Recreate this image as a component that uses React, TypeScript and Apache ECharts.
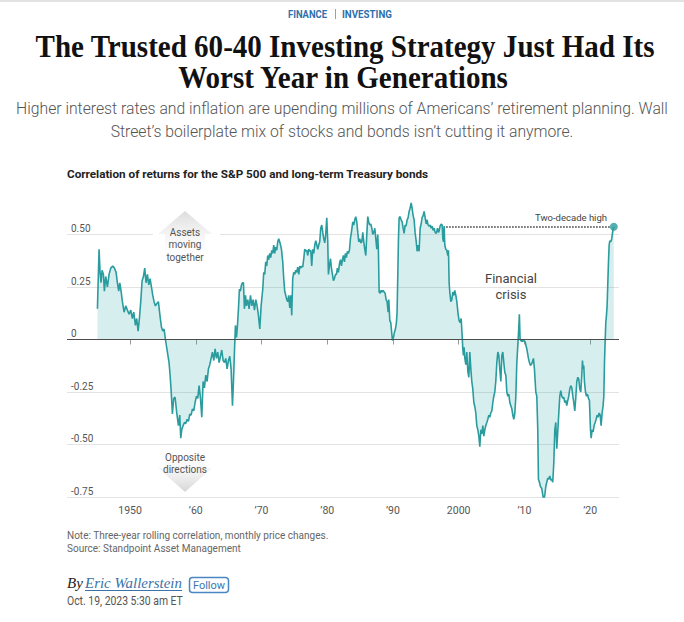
import React, { useEffect, useRef } from "react";
import * as echarts from "echarts";

// ---------- DATA (year, 3-yr rolling correlation) ----------
const readings1945to1956: [number, number][] = [
  [1945.03, 0.146], [1945.28, 0.43], [1945.43, 0.32], [1945.58, 0.27], [1945.74, 0.33], [1945.94, 0.31],
  [1946.09, 0.23], [1946.29, 0.3], [1946.55, 0.25], [1946.8, 0.31], [1947.06, 0.34], [1947.36, 0.35],
  [1947.61, 0.34], [1947.87, 0.32], [1948.07, 0.27], [1948.27, 0.23], [1948.43, 0.27], [1948.63, 0.23],
  [1948.83, 0.18], [1949.09, 0.13], [1949.34, 0.16], [1949.59, 0.14], [1949.85, 0.12], [1950.1, 0.14],
  [1950.35, 0.1], [1950.56, 0.13], [1950.81, 0.067], [1951.01, 0.1], [1951.22, 0.04], [1951.42, 0.1],
  [1951.62, 0.18], [1951.83, 0.28], [1952.03, 0.3], [1952.23, 0.34], [1952.43, 0.27], [1952.64, 0.31],
  [1952.84, 0.26], [1953.04, 0.29], [1953.25, 0.25], [1953.45, 0.21], [1953.65, 0.18], [1953.85, 0.16],
  [1954.06, 0.17], [1954.31, 0.18], [1954.56, 0.11], [1954.77, 0.06], [1954.97, 0.04], [1955.17, 0.05],
  [1955.38, 0.0], [1955.68, -0.06], [1955.93, -0.11], [1956.09, -0.17], [1956.24, -0.24], [1956.44, -0.355],
  [1956.64, -0.28], [1956.85, -0.275],
];
const readings1957to1969: [number, number][] = [
  [1957.1, -0.35], [1957.36, -0.41], [1957.56, -0.36], [1957.71, -0.47], [1957.86, -0.43], [1958.07, -0.41],
  [1958.27, -0.395], [1958.47, -0.4], [1958.68, -0.38], [1958.88, -0.39], [1959.08, -0.355], [1959.29, -0.36],
  [1959.49, -0.33], [1959.69, -0.34], [1959.89, -0.3], [1960.1, -0.27], [1960.3, -0.28], [1960.5, -0.22],
  [1960.71, -0.28], [1960.91, -0.37], [1961.11, -0.2], [1961.31, -0.23], [1961.52, -0.17], [1961.72, -0.2],
  [1961.92, -0.14], [1962.13, -0.12], [1962.33, -0.09], [1962.53, -0.06], [1962.74, -0.1], [1962.94, -0.045],
  [1963.14, -0.09], [1963.34, -0.06], [1963.55, -0.11], [1963.75, -0.08], [1963.95, -0.05], [1964.16, -0.1],
  [1964.36, -0.11], [1964.56, -0.09], [1964.76, -0.14], [1964.97, -0.1], [1965.17, -0.08], [1965.37, -0.14],
  [1965.58, -0.315], [1965.73, -0.2], [1965.88, -0.06], [1966.03, 0.067], [1966.19, 0.01], [1966.34, 0.067],
  [1966.49, 0.146], [1966.64, 0.24], [1966.79, 0.23], [1966.95, 0.26], [1967.1, 0.27], [1967.25, 0.27],
  [1967.4, 0.146], [1967.56, 0.21], [1967.71, 0.16], [1967.91, 0.19], [1968.11, 0.146], [1968.32, 0.21],
  [1968.52, 0.16], [1968.72, 0.19], [1968.93, 0.14], [1969.13, 0.19], [1969.33, 0.16], [1969.53, 0.115],
  [1969.74, 0.05], [1969.94, 0.16],
];
const readings1970to1983: [number, number][] = [
  [1970.19, 0.24], [1970.34, 0.32], [1970.49, 0.31], [1970.64, 0.37], [1970.79, 0.35], [1970.95, 0.4],
  [1971.1, 0.38], [1971.25, 0.41], [1971.4, 0.39], [1971.56, 0.425], [1971.71, 0.41], [1971.86, 0.45],
  [1972.01, 0.41], [1972.16, 0.44], [1972.32, 0.425], [1972.47, 0.465], [1972.62, 0.48], [1972.82, 0.46],
  [1973.03, 0.43], [1973.23, 0.37], [1973.38, 0.29], [1973.53, 0.23], [1973.69, 0.21], [1973.84, 0.19],
  [1973.99, 0.18], [1974.14, 0.21], [1974.3, 0.15], [1974.45, 0.21], [1974.6, 0.115], [1974.75, 0.29],
  [1974.9, 0.32], [1975.06, 0.31], [1975.21, 0.33], [1975.36, 0.32], [1975.51, 0.345], [1975.67, 0.31],
  [1975.82, 0.35], [1975.97, 0.34], [1976.12, 0.35], [1976.27, 0.345], [1976.43, 0.385], [1976.58, 0.43],
  [1976.73, 0.42], [1976.88, 0.425], [1977.04, 0.4], [1977.19, 0.43], [1977.34, 0.42], [1977.49, 0.425],
  [1977.64, 0.35], [1977.8, 0.43], [1977.95, 0.41], [1978.1, 0.45], [1978.25, 0.47], [1978.41, 0.45],
  [1978.56, 0.43], [1978.71, 0.45], [1978.86, 0.465], [1979.01, 0.53], [1979.17, 0.545], [1979.32, 0.51],
  [1979.47, 0.48], [1979.62, 0.46], [1979.77, 0.5], [1979.93, 0.58], [1980.08, 0.465], [1980.18, 0.31],
  [1980.33, 0.35], [1980.49, 0.385], [1980.64, 0.34], [1980.79, 0.31], [1980.94, 0.28], [1981.09, 0.29],
  [1981.25, 0.31], [1981.4, 0.31], [1981.55, 0.34], [1981.7, 0.32], [1981.86, 0.36], [1982.01, 0.38],
  [1982.16, 0.35], [1982.31, 0.38], [1982.46, 0.4], [1982.62, 0.37], [1982.77, 0.41], [1982.92, 0.39],
  [1983.07, 0.42], [1983.22, 0.41], [1983.38, 0.425], [1983.53, 0.48], [1983.68, 0.51],
];
const readings1984to1996: [number, number][] = [
  [1983.89, 0.56], [1984.04, 0.545], [1984.19, 0.57], [1984.34, 0.585], [1984.5, 0.56], [1984.65, 0.51],
  [1984.8, 0.465], [1984.95, 0.48], [1985.1, 0.46], [1985.26, 0.465], [1985.41, 0.51], [1985.56, 0.465],
  [1985.71, 0.43], [1985.87, 0.4], [1986.02, 0.5], [1986.17, 0.585], [1986.32, 0.56], [1986.47, 0.545],
  [1986.63, 0.55], [1986.78, 0.53], [1986.93, 0.5], [1987.08, 0.51], [1987.24, 0.53], [1987.39, 0.48],
  [1987.54, 0.43], [1987.69, 0.5], [1987.79, 0.42], [1987.9, 0.226], [1988.05, 0.22], [1988.2, 0.234],
  [1988.35, 0.226], [1988.5, 0.234], [1988.66, 0.226], [1988.81, 0.22], [1988.96, 0.19], [1989.11, 0.18],
  [1989.27, 0.13], [1989.37, 0.19], [1989.52, 0.09], [1989.67, 0.08], [1989.82, 0.03], [1989.92, -0.005],
  [1990.08, 0.01], [1990.23, 0.035], [1990.38, 0.05], [1990.53, 0.08], [1990.63, 0.13], [1990.74, 0.31],
  [1990.84, 0.48], [1990.94, 0.58], [1991.09, 0.585], [1991.24, 0.57], [1991.4, 0.56], [1991.55, 0.53],
  [1991.7, 0.505], [1991.85, 0.545], [1992.0, 0.54], [1992.16, 0.57], [1992.31, 0.58], [1992.46, 0.61],
  [1992.61, 0.625], [1992.77, 0.65], [1992.92, 0.625], [1993.07, 0.59], [1993.22, 0.57], [1993.37, 0.51],
  [1993.53, 0.47], [1993.68, 0.42], [1993.83, 0.45], [1993.98, 0.42], [1994.14, 0.53], [1994.29, 0.55],
  [1994.44, 0.58], [1994.59, 0.59], [1994.74, 0.61], [1994.9, 0.58], [1995.05, 0.55], [1995.2, 0.57],
  [1995.35, 0.545], [1995.51, 0.54], [1995.66, 0.545], [1995.81, 0.53], [1995.96, 0.54], [1996.11, 0.52],
  [1996.27, 0.53], [1996.42, 0.51], [1996.62, 0.505],
];
const readings1997to2009: [number, number][] = [
  [1996.78, 0.53], [1996.98, 0.51], [1997.18, 0.54], [1997.33, 0.55], [1997.49, 0.545], [1997.59, 0.48],
  [1997.69, 0.465], [1997.79, 0.54], [1997.89, 0.45], [1998.04, 0.43], [1998.2, 0.425], [1998.35, 0.4],
  [1998.45, 0.425], [1998.55, 0.27], [1998.65, 0.226], [1998.81, 0.18], [1998.96, 0.19], [1999.11, 0.226],
  [1999.26, 0.21], [1999.41, 0.234], [1999.57, 0.21], [1999.72, 0.18], [1999.92, 0.12], [2000.07, 0.09],
  [2000.23, 0.08], [2000.38, 0.1], [2000.53, 0.02], [2000.63, -0.045], [2000.73, -0.076], [2000.83, -0.037],
  [2000.94, -0.09], [2001.09, -0.12], [2001.24, -0.06], [2001.39, -0.15], [2001.55, -0.18], [2001.7, -0.06],
  [2001.85, -0.14], [2002.0, -0.2], [2002.15, -0.235], [2002.31, -0.3], [2002.46, -0.32], [2002.61, -0.35],
  [2002.76, -0.41], [2002.92, -0.43], [2003.07, -0.46], [2003.22, -0.51], [2003.37, -0.43], [2003.52, -0.45],
  [2003.68, -0.41], [2003.83, -0.46], [2003.98, -0.43], [2004.13, -0.41], [2004.29, -0.395], [2004.44, -0.38],
  [2004.59, -0.36], [2004.74, -0.37], [2004.89, -0.35], [2005.05, -0.34], [2005.2, -0.3], [2005.35, -0.27],
  [2005.5, -0.25], [2005.65, -0.2], [2005.81, -0.11], [2005.96, -0.06], [2006.11, -0.076], [2006.26, -0.14],
  [2006.42, -0.2], [2006.57, -0.076], [2006.72, -0.06], [2006.87, -0.11], [2007.02, -0.156], [2007.18, -0.17],
  [2007.33, -0.25], [2007.48, -0.27], [2007.63, -0.26], [2007.79, -0.3], [2007.94, -0.315], [2008.09, -0.33],
  [2008.24, -0.36], [2008.39, -0.38], [2008.55, -0.35], [2008.7, -0.27], [2008.85, -0.11], [2009.0, -0.03],
  [2009.14, 0.05], [2009.24, 0.12],
];
const readings2009to2023: [number, number][] = [
  [2009.35, 0.0], [2009.6, -0.01], [2009.86, -0.005], [2010.11, -0.01], [2010.37, -0.045], [2010.62, -0.09],
  [2010.77, -0.11], [2010.92, -0.124], [2011.13, -0.116], [2011.38, -0.09], [2011.53, -0.14], [2011.74, -0.25],
  [2011.89, -0.27], [2012.04, -0.43], [2012.14, -0.665], [2012.29, -0.68], [2012.45, -0.7], [2012.65, -0.71],
  [2012.8, -0.74], [2012.95, -0.77], [2013.11, -0.74], [2013.26, -0.7], [2013.41, -0.68], [2013.56, -0.66],
  [2013.71, -0.665], [2013.87, -0.65], [2014.02, -0.67], [2014.17, -0.665], [2014.32, -0.68], [2014.48, -0.586],
  [2014.63, -0.43], [2014.78, -0.395], [2014.93, -0.52], [2015.08, -0.44], [2015.24, -0.35], [2015.39, -0.27],
  [2015.54, -0.244], [2015.69, -0.27], [2015.85, -0.28], [2016.0, -0.275], [2016.15, -0.3], [2016.3, -0.29],
  [2016.45, -0.315], [2016.61, -0.29], [2016.76, -0.27], [2016.91, -0.236], [2017.06, -0.22], [2017.22, -0.23],
  [2017.37, -0.27], [2017.52, -0.3], [2017.67, -0.34], [2017.82, -0.28], [2017.98, -0.2], [2018.13, -0.18],
  [2018.28, -0.19], [2018.43, -0.236], [2018.58, -0.25], [2018.74, -0.17], [2018.84, -0.1], [2018.94, -0.14],
  [2019.04, -0.124], [2019.14, -0.2], [2019.3, -0.25], [2019.45, -0.27], [2019.6, -0.26], [2019.75, -0.28],
  [2019.9, -0.29], [2020.06, -0.43], [2020.16, -0.47], [2020.31, -0.43], [2020.46, -0.44], [2020.61, -0.41],
  [2020.77, -0.395], [2020.92, -0.38], [2021.07, -0.36], [2021.22, -0.37], [2021.38, -0.35], [2021.53, -0.36],
  [2021.68, -0.41], [2021.83, -0.35], [2021.98, -0.315], [2022.09, -0.27], [2022.19, -0.11], [2022.29, -0.01],
  [2022.39, 0.08], [2022.49, 0.115], [2022.59, 0.16], [2022.69, 0.26], [2022.8, 0.37], [2022.9, 0.45],
  [2023.0, 0.47], [2023.15, 0.465], [2023.3, 0.48], [2023.46, 0.52], [2023.61, 0.537],
];

const tickYears = [1950, 1960, 1970, 1980, 1990, 2000, 2010, 2020];
const highLineStartYear = 1998.1;

// ---------- TEXT ----------
const kickerLeft = "FINANCE";
const kickerRight = "INVESTING";
const headline = ["The Trusted 60-40 Investing Strategy Just Had Its", "Worst Year in Generations"];
const dek = [
  "Higher interest rates and inflation are upending millions of Americans\u2019 retirement planning. Wall",
  "Street\u2019s boilerplate mix of stocks and bonds isn\u2019t cutting it anymore.",
];
const chartTitle = "Correlation of returns for the S&P 500 and long-term Treasury bonds";
const upLabel = ["Assets", "moving", "together"];
const downLabel = ["Opposite", "directions"];
const crisisLabel = ["Financial", "crisis"];
const highLabel = "Two-decade high";
const notes = ["Note: Three-year rolling correlation, monthly price changes.", "Source: Standpoint Asset Management"];
const author = "Eric Wallerstein";
const dateline = "Oct. 19, 2023 5:30 am ET";

const TEAL = "#2a9c9e";
const SANS = "Roboto";
const SERIF = '"Liberation Serif"';

let measureCtx: CanvasRenderingContext2D | null = null;
function textWidth(text: string, size: number, family: string, weight = "normal", style = "normal") {
  if (!measureCtx) measureCtx = document.createElement("canvas").getContext("2d");
  if (!measureCtx) return 1;
  measureCtx.font = `${style} ${weight} ${size}px ${family}`;
  return measureCtx.measureText(text).width || 1;
}

function txt(
  text: string, x: number, y: number, size: number, family: string, fill: string,
  opts: { weight?: string; style?: string; align?: string; scaleX?: number; stroke?: string; z?: number } = {}
) {
  return {
    type: "text",
    x, y,
    scaleX: opts.scaleX ?? 1,
    z: opts.z ?? 60,
    silent: true,
    style: {
      text,
      fontSize: size,
      fontFamily: family,
      fontWeight: opts.weight ?? "normal",
      fontStyle: opts.style ?? "normal",
      fill,
      align: opts.align ?? "left",
      verticalAlign: "middle",
      stroke: opts.stroke,
      lineWidth: opts.stroke ? 4 : 0,
    },
  };
}

export default function App() {
  const ref = useRef<HTMLDivElement>(null);
  useEffect(() => {
    if (!ref.current) return;
    const chart = echarts.init(ref.current, undefined, { renderer: "svg" });

    const data = [
      ...readings1945to1956, ...readings1957to1969, ...readings1970to1983,
      ...readings1984to1996, ...readings1997to2009, ...readings2009to2023,
    ];
    const last = data[data.length - 1];

    const headScale = 620 / textWidth(headline[0], 31, SERIF, "bold");
    const dekScale = 652 / textWidth(dek[0], 17, SANS, "300");
    const kLScale = 39 / textWidth(kickerLeft, 10, SANS, "bold");
    const kRScale = 50 / textWidth(kickerRight, 10, SANS, "bold");
    const ctScale = 362 / textWidth(chartTitle, 11.5, SANS, "bold");
    const noteScale = 262 / textWidth(notes[0], 10, SANS);
    const authScale = 97 / textWidth(author, 15, SERIF, "normal", "italic");
    const dateScale = 116 / textWidth(dateline, 12, SANS);

    const upGrad = new echarts.graphic.LinearGradient(0, 0, 0, 1, [
      { offset: 0, color: "#dcdcdc" },
      { offset: 1, color: "rgba(255,255,255,0)" },
    ]);
    const downGrad = new echarts.graphic.LinearGradient(0, 0, 0, 1, [
      { offset: 0, color: "rgba(255,255,255,0)" },
      { offset: 1, color: "#d6d6d6" },
    ]);

    const graphic: any[] = [
      { type: "rect", shape: { x: 0, y: 0, width: 684, height: 2 }, style: { fill: "#e2e2e2" }, z: 60, silent: true },
      txt(kickerLeft, 288, 14, 10, SANS, "#2f6fad", { weight: "bold", align: "left", scaleX: kLScale }),
      { type: "line", shape: { x1: 335.5, y1: 9, x2: 335.5, y2: 19 }, style: { stroke: "#8fa3b8", lineWidth: 1 }, z: 60, silent: true },
      txt(kickerRight, 342, 14, 10, SANS, "#2f6fad", { weight: "bold", align: "left", scaleX: kRScale }),
      txt(headline[0], 345, 46, 31, SERIF, "#111", { weight: "bold", align: "center", scaleX: headScale }),
      txt(headline[1], 343, 77, 31, SERIF, "#111", { weight: "bold", align: "center", scaleX: headScale }),
      txt(dek[0], 342, 108, 17, SANS, "#555", { weight: "300", align: "center", scaleX: dekScale }),
      txt(dek[1], 342, 131, 17, SANS, "#555", { weight: "300", align: "center", scaleX: dekScale }),
      txt(chartTitle, 67, 174, 11.5, SANS, "#222", { weight: "bold", scaleX: ctScale }),
      // up arrow
      { type: "rect", shape: { x: 153, y: 229, width: 67, height: 10 }, style: { fill: "#fff" }, z: 55, silent: true },
      {
        type: "polygon", z: 56, silent: true,
        shape: { points: [[185, 211], [212, 234], [205, 234], [205, 264], [165, 264], [165, 234], [158, 234]] },
        style: { fill: upGrad },
      },
      txt(upLabel[0], 185, 232, 10, SANS, "#555", { align: "center" }),
      txt(upLabel[1], 185, 244.5, 10, SANS, "#555", { align: "center" }),
      txt(upLabel[2], 185, 257, 10, SANS, "#555", { align: "center" }),
      // down arrow
      {
        type: "polygon", z: 56, silent: true,
        shape: { points: [[165, 447], [205, 447], [205, 468], [212, 468], [185, 492], [158, 468], [165, 468]] },
        style: { fill: downGrad },
      },
      txt(downLabel[0], 185, 457, 10, SANS, "#555", { align: "center" }),
      txt(downLabel[1], 185, 469.5, 10, SANS, "#555", { align: "center" }),
      // annotations
      txt(crisisLabel[0], 511, 278, 13, SANS, "#444", { align: "center", stroke: "#fff" }),
      txt(crisisLabel[1], 511, 294, 13, SANS, "#444", { align: "center", stroke: "#fff" }),
      txt(highLabel, 607, 217, 9.5, SANS, "#444", { align: "right" }),
      // notes
      txt(notes[0], 67, 536, 10, SANS, "#666", { scaleX: noteScale }),
      txt(notes[1], 67, 549, 10, SANS, "#666", { scaleX: noteScale }),
      // byline
      txt("By", 67, 583, 15, SERIF, "#222", { style: "italic" }),
      txt(author, 85, 583, 15, SERIF, "#3a73a8", { style: "italic", scaleX: authScale }),
      { type: "line", shape: { x1: 85, y1: 590.5, x2: 182, y2: 590.5 }, style: { stroke: "#3a73a8", lineWidth: 1 }, z: 60, silent: true },
      {
        type: "rect", z: 60, silent: true,
        shape: { x: 189.5, y: 577.5, width: 39, height: 15, r: 3 },
        style: { fill: "#fff", stroke: "#4a86c0", lineWidth: 1.5 },
      },
      txt("Follow", 209, 585, 11, SANS, "#3a77b0", { align: "center", z: 61 }),
      txt(dateline, 67, 601, 12, SANS, "#555", { scaleX: dateScale }),
    ];

    chart.setOption({
      animation: false,
      grid: { left: 67, right: 65, top: 182, bottom: 125, outerBoundsMode: "none" },
      xAxis: {
        type: "value",
        min: 1940.4,
        max: 2024.4,
        axisLine: { show: false },
        splitLine: { show: false },
        axisTick: { show: true, customValues: tickYears, length: 5, lineStyle: { color: "#999" } },
        axisLabel: {
          customValues: tickYears,
          color: "#555",
          fontSize: 10.5,
          fontFamily: SANS,
          margin: 8,
          formatter: (v: number) => (v === 1950 || v === 2000 ? String(v) : "\u2019" + String(v).slice(2)),
        },
      },
      yAxis: {
        type: "value",
        min: -0.75,
        max: 0.75,
        interval: 0.25,
        axisLine: { show: false },
        axisTick: { show: false },
        splitLine: { show: true, showMaxLine: false, lineStyle: { color: "#e3e3e3", width: 1 } },
        axisLabel: {
          inside: true,
          margin: 4,
          verticalAlign: "bottom",
          lineHeight: 12,
          showMaxLabel: false,
          color: "#555",
          fontSize: 10,
          fontFamily: SANS,
          formatter: (v: number) => (v === 0 ? "0" : v.toFixed(2)),
        },
      },
      series: [
        {
          type: "line",
          data,
          showSymbol: false,
          symbol: "none",
          z: 3,
          lineStyle: { color: TEAL, width: 1.6 },
          areaStyle: { color: "rgba(40,165,170,0.27)" },
          markLine: {
            silent: true,
            symbol: ["none", "none"],
            label: { show: false },
            data: [
              { yAxis: 0, lineStyle: { color: "#4d4d4d", width: 1, type: "solid" } },
              [
                { coord: [highLineStartYear, last[1]], lineStyle: { color: "#333", width: 1.5, type: [1.5, 1.5] } },
                { coord: [last[0] - 0.4, last[1]], lineStyle: { color: "#333", width: 1.5, type: [1.5, 1.5] } },
              ],
            ],
          },
        },
        {
          type: "scatter",
          data: [last],
          symbolSize: 8,
          z: 5,
          itemStyle: { color: TEAL },
        },
      ],
      graphic,
    });
    return () => chart.dispose();
  }, []);
  return <div ref={ref} style={{ position: "fixed", left: 0, top: 0, width: 684, height: 622, background: "#fff" }} />;
}
